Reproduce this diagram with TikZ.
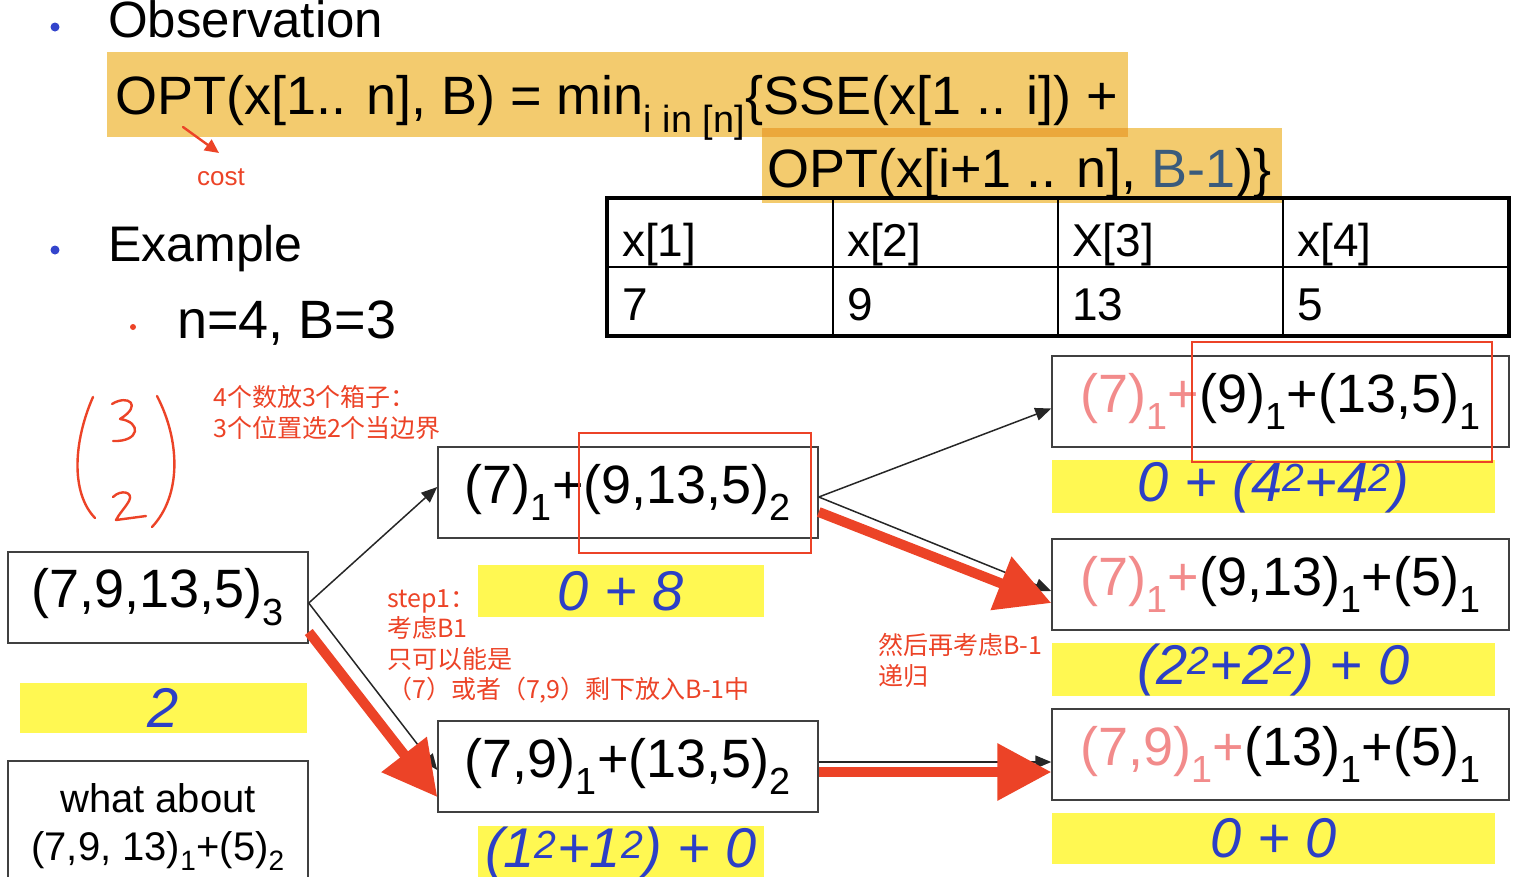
\documentclass[tikz,border=0pt]{standalone}
\usepackage{fontspec}
\setmainfont{Liberation Sans}
\newfontfamily\cjk{Noto Sans CJK SC}
\usetikzlibrary{arrows.meta}
\definecolor{hl}{HTML}{F3CB6E}
\definecolor{hldark}{HTML}{EBA83C}
\definecolor{yel}{HTML}{FFF852}
\definecolor{blu}{HTML}{2C3FC6}
\definecolor{redn}{HTML}{EC4327}
\definecolor{pinkt}{HTML}{F28B8B}
\definecolor{slate}{HTML}{3A5B7C}
\definecolor{bdot}{HTML}{3344CC}
\newcommand\fsz[1]{\fontsize{#1}{#1}\selectfont}
\newcommand\sbs[1]{\textsubscript{#1}}
\newcommand\sps[1]{\textsuperscript{#1}}
\tikzset{
  stbox/.style={draw=black!75, line width=1.5pt, inner sep=0pt, font=\fsz{54}},
  ybox/.style={fill=yel, inner sep=0pt, font=\fsz{56}\itshape, text=blu},
  plain/.style={inner sep=0pt, anchor=base west},
  cjkt/.style={inner sep=0pt, anchor=base west, text=redn, font=\cjk\fsz{25}},
  thin/.style={draw=black!85, line width=1.5pt, -{Triangle[length=16pt,width=13pt]}},
  fat/.style={draw=redn, line width=10pt, -{Triangle[length=54pt,width=55pt]}},
  hand/.style={draw=redn, line width=2.4pt, line cap=round, line join=round},
  redrect/.style={draw=redn, line width=1.6pt}
}
\begin{document}
\begin{tikzpicture}[x=1pt,y=-1pt]
\useasboundingbox (0,0) rectangle (1518,876);
\clip (0,0) rectangle (1518,876);
% highlights
\fill[hl] (107,52) rectangle (1128,137);
\fill[hl] (762,128) rectangle (1282,203);
\fill[hldark] (762,128) rectangle (1128,137);
% bullets
\fill[bdot] (55,27) circle (4.5);
\node[plain, font=\fsz{51}] (obs) at (108,37) {Observation};
\node[plain, font=\fsz{54}] (f1) at (115,114) {OPT(x[1.. n], B) = min\sbs{i in [n]}\{SSE(x[1 .. i]) +};
\node[plain, font=\fsz{54}] (f2) at (767,187) {OPT(x[i+1 .. n], \textcolor{slate}{B-1})\}};
\fill[bdot] (55,250) circle (4.5);
\node[plain, font=\fsz{50}] (ex) at (108,261) {Example};
\fill[redn] (133,327) circle (3);
\node[plain, font=\fsz{54}] (nb) at (177,338) {n=4, B=3};
% cost annotation
\node[inner sep=0pt, text=redn, font=\fsz{26}] (cost) at (221,177) {cost};
\coordinate (c0) at (183,127);
\coordinate (c1) at (219,153);
\draw[hand, -{Triangle[length=14pt,width=13pt]}] (c0) -- (c1);
% table
\draw[line width=2pt] (833,198) -- (833,336) (1058,198) -- (1058,336) (1283,198) -- (1283,336) (607,267) -- (1509,267);
\draw[line width=4pt] (607,198) rectangle (1509,336);
\foreach \x/\a/\b [count=\i] in {622/x[1]/7, 847/x[2]/9, 1072/X[3]/13, 1297/x[4]/5}{
  \node[plain, font=\fsz{46}] (th\i) at (\x,256) {\a};
  \node[plain, font=\fsz{46}] (td\i) at (\x,320) {\b};
}
% handwritten binomial
\draw[hand] (93,397) .. controls (74,440) and (70,492) .. (95,518);
\draw[hand] (157,396) .. controls (180,440) and (182,495) .. (152,527);
\draw[hand] (112,404) .. controls (128,394) and (143,405) .. (120,419) .. controls (142,422) and (140,442) .. (113,441);
\draw[hand] (113,497) .. controls (121,489) and (134,492) .. (129,501) .. controls (125,508) and (119,514) .. (116,520) -- (146,516);
% chinese notes
\node[cjkt] (n1) at (213,406) {4个数放3个箱子：};
\node[cjkt] (n2) at (213,437) {3个位置选2个当边界};
\node[cjkt] (s1) at (387,607) {step1：};
\node[cjkt] (s2) at (387,637) {考虑B1};
\node[cjkt] (s3) at (387,668) {只可以能是};
\node[cjkt] (s4) at (387,698) {（7）或者（7,9）剩下放入B-1中};
\node[cjkt] (r1) at (878,654) {然后再考虑B-1};
\node[cjkt] (r2) at (878,685) {递归};
% boxes
\node[stbox, minimum width=300pt, minimum height=91pt] (A) at (158,597.5) {(7,9,13,5)\sbs{3}};
\node[stbox, minimum width=380pt, minimum height=91pt] (B) at (628,492.5) {(7)\sbs{1}+(9,13,5)\sbs{2}};
\node[stbox, minimum width=380pt, minimum height=91pt] (C) at (628,766.5) {(7,9)\sbs{1}+(13,5)\sbs{2}};
\node[stbox, minimum width=457pt, minimum height=91pt] (D) at (1280.5,401.5) {\textcolor{pinkt}{(7)\sbs{1}+}(9)\sbs{1}+(13,5)\sbs{1}};
\node[stbox, minimum width=457pt, minimum height=91pt] (E) at (1280.5,584.5) {\textcolor{pinkt}{(7)\sbs{1}+}(9,13)\sbs{1}+(5)\sbs{1}};
\node[stbox, minimum width=457pt, minimum height=91pt] (F) at (1280.5,754.5) {\textcolor{pinkt}{(7,9)\sbs{1}+}(13)\sbs{1}+(5)\sbs{1}};
\node[draw=black!75, line width=1.5pt, minimum width=300pt, minimum height=130pt, inner sep=0pt] (W) at (158,826) {};
\node[inner sep=0pt, anchor=base, font=\fsz{40}] (w1) at (158,812) {what about};
\node[inner sep=0pt, anchor=base, font=\fsz{40}] (w2) at (158,860) {(7,9, 13)\sbs{1}+(5)\sbs{2}};
% yellow cost boxes
\node[ybox, minimum width=287pt, minimum height=50pt] (yA) at (163.5,708) {2};
\node[ybox, minimum width=286pt, minimum height=52pt] (yB) at (621,591) {0 + 8};
\node[ybox, minimum width=286pt, minimum height=54pt] (yC) at (621,853) {(1\sps{2}+1\sps{2}) + 0};
\node[ybox, minimum width=443pt, minimum height=51pt] (yD) at (1273.5,486.5) {0 + (4\sps{2}+4\sps{2})};
\node[ybox, minimum width=443pt, minimum height=51pt] (yE) at (1273.5,669.5) {(2\sps{2}+2\sps{2}) + 0};
\node[ybox, minimum width=443pt, minimum height=51pt] (yF) at (1273.5,838.5) {0 + 0};
% red dotted selections
\draw[redrect] (579,433) rectangle (811,553);
\draw[redrect] (1192,342) rectangle (1492,462);
% thin connectors
\draw[thin] ([yshift=-5.5pt]A.east) -- ([yshift=5.5pt]B.west);
\draw[thin] ([yshift=-5.5pt]A.east) -- ([yshift=-3.5pt]C.west);
\draw[thin] ([yshift=-4.5pt]B.east) -- ([yshift=-7pt]D.west);
\draw[thin] ([yshift=-4.5pt]B.east) -- ([yshift=-6.5pt]E.west);
\draw[thin] ([yshift=4.5pt]C.east) -- ([yshift=-7.5pt]F.west);
% fat red arrows
\draw[fat] ([yshift=-34.5pt]A.east) -- ([yshift=-30.5pt]C.west);
\draw[fat] ([yshift=-19.5pt]B.east) -- ([yshift=-18.5pt]E.west);
\draw[fat] ([yshift=-5.5pt]C.east) -- ([yshift=-17.5pt]F.west);
\end{tikzpicture}
\end{document}
